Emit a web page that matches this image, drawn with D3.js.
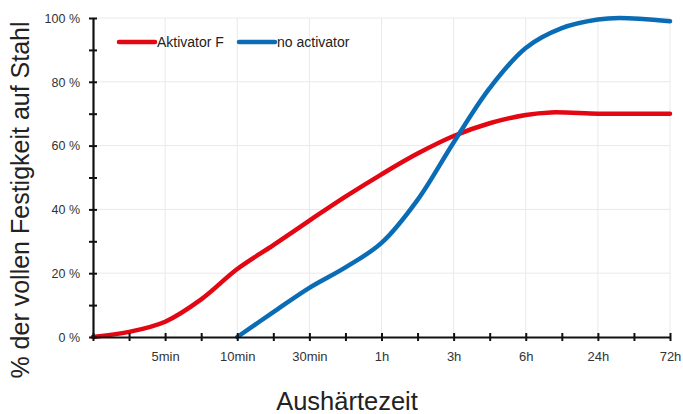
<!DOCTYPE html>
<html>
<head>
<meta charset="utf-8">
<style>
  body { margin: 0; background: #fff; }
  text { font-family: "Liberation Sans", Arial, sans-serif; }
</style>
</head>
<body>
<div id="vis-curing"></div>
<script src="https://d3js.org/d3.v7.min.js"></script>
<script>

// Data //
// ---- //

const xLabels = ["", "5min", "10min", "30min", "1h", "3h", "6h", "24h", "72h"];
const yTicks = [0, 20, 40, 60, 80, 100];

// positions on the category axis (0 = start, 1 = 5min, ... 8 = 72h)
const aktivatorPos = [0, 0.5, 1, 1.5, 2, 2.5, 3, 3.5, 4, 4.5, 5, 5.5, 6, 6.35, 7, 7.5, 8];
const aktivatorVal = [0, 1.6, 4.8, 11.8, 21.3, 28.8, 36.5, 44, 51, 57.5, 63, 67, 69.6, 70.4, 70, 70, 70];

const noActPos = [2, 2.5, 3, 3.5, 4, 4.5, 5, 5.5, 6, 6.5, 7, 7.3, 8];
const noActVal = [0, 7.8, 15.4, 21.8, 29.5, 43, 61, 78, 90.6, 96.8, 99.5, 100, 99];

const series = [
  {name: "Aktivator F", color: "#e30613", pos: aktivatorPos, val: aktivatorVal},
  {name: "no activator", color: "#0a6cb4", pos: noActPos, val: noActVal}
];

// Setup //
// ----- //

const W = 683, H = 414;
const svg = d3.select("#vis-curing")
  .append("svg")
    .attr("width", W)
    .attr("height", H);

const x = d3.scaleLinear().domain([0, 8]).range([93, 670]);
const y = d3.scaleLinear().domain([0, 100]).range([337, 18]);

// grid
svg.append("g")
  .selectAll("line")
  .data(yTicks.slice(1))
  .enter().append("line")
    .attr("x1", x(0)).attr("x2", x(8))
    .attr("y1", d => y(d)).attr("y2", d => y(d))
    .attr("stroke", "#e9e9e9").attr("stroke-width", 1);

svg.append("g")
  .selectAll("line")
  .data(d3.range(1, 9))
  .enter().append("line")
    .attr("x1", d => x(d)).attr("x2", d => x(d))
    .attr("y1", y(0)).attr("y2", y(100))
    .attr("stroke", "#e9e9e9").attr("stroke-width", 1);

// lines
const line = d3.line()
  .x(d => x(d[0]))
  .y(d => y(d[1]))
  .curve(d3.curveCatmullRom.alpha(0.5));

for (let s of series) {
  svg.append("path")
    .datum(d3.zip(s.pos, s.val))
    .attr("d", line)
    .attr("fill", "none")
    .attr("stroke", s.color)
    .attr("stroke-width", 4.5)
    .attr("stroke-linecap", "round");
}

// axes
const xAxis = svg.append("g")
  .attr("transform", "translate(0," + y(0) + ")")
  .call(d3.axisBottom(x).tickValues(d3.range(0, 8.5, 0.5)).tickSize(0).tickFormat(""));
xAxis.select(".domain").attr("stroke", "#111").attr("stroke-width", 2.2);
xAxis.selectAll(".tick line").remove();
xAxis.selectAll(".tick").append("line")
  .attr("y1", -4).attr("y2", 4)
  .attr("stroke", "#111").attr("stroke-width", 2);
xAxis.selectAll(".tick").filter(d => Number.isInteger(d)).append("text")
  .attr("y", 24)
  .attr("text-anchor", "middle")
  .attr("fill", "#333")
  .attr("font-size", 13)
  .text(d => xLabels[d]);

const yAxis = svg.append("g")
  .attr("transform", "translate(" + x(0) + ",0)")
  .call(d3.axisLeft(y).tickValues(d3.range(0, 101, 10)).tickSize(0).tickFormat(""));
yAxis.select(".domain").attr("stroke", "#111").attr("stroke-width", 2.2);
yAxis.selectAll(".tick line").remove();
yAxis.selectAll(".tick").append("line")
  .attr("x1", -4).attr("x2", 4)
  .attr("stroke", "#111").attr("stroke-width", 2);
yAxis.selectAll(".tick").filter(d => d % 20 === 0).append("text")
  .attr("x", -13)
  .attr("dy", "0.35em")
  .attr("text-anchor", "end")
  .attr("fill", "#333")
  .attr("font-size", 12.5)
  .text(d => d + " %");

// titles
svg.append("text")
  .attr("transform", "translate(29," + 200 + ") rotate(-90)")
  .attr("text-anchor", "middle")
  .attr("fill", "#222")
  .attr("font-size", 25)
  .text("% der vollen Festigkeit auf Stahl");

svg.append("text")
  .attr("x", 347)
  .attr("y", 410)
  .attr("text-anchor", "middle")
  .attr("fill", "#222")
  .attr("font-size", 25.5)
  .text("Aushärtezeit");

// legend
const legend = svg.append("g");
const legendX = [119, 239];
series.forEach((s, i) => {
  legend.append("line")
    .attr("x1", legendX[i]).attr("x2", legendX[i] + 36)
    .attr("y1", 42).attr("y2", 42)
    .attr("stroke", s.color).attr("stroke-width", 4.5)
    .attr("stroke-linecap", "round");
  legend.append("text")
    .attr("x", legendX[i] + 38)
    .attr("y", 42)
    .attr("dy", "0.35em")
    .attr("fill", "#222")
    .attr("font-size", 14)
    .text(s.name);
});

</script>
</body>
</html>
